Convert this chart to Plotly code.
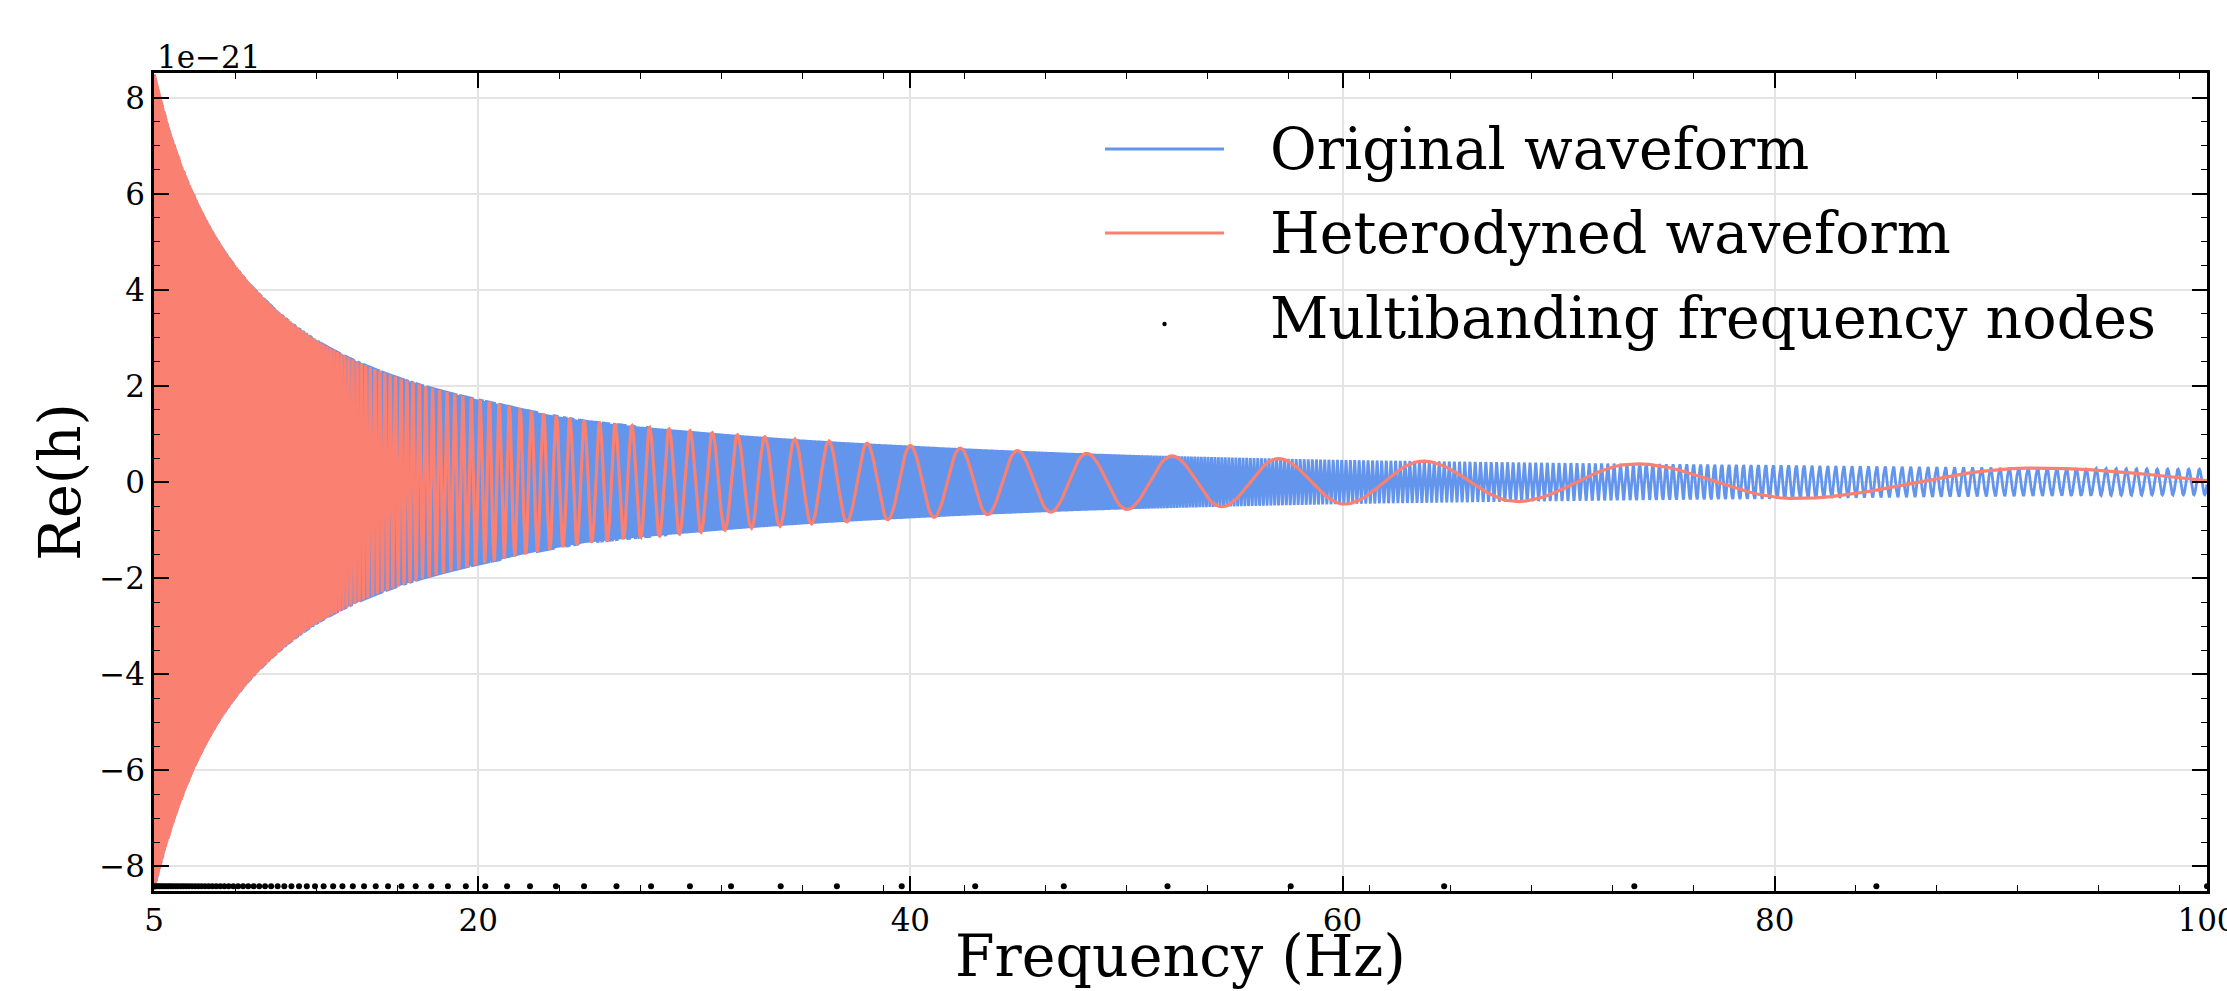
import numpy as np
import plotly.graph_objects as go

# ---------------- values ----------------
f_range = [5, 100]                 # Hz
y_range = [-8.52, 8.52]            # Re(h) in units of 1e-21

# amplitude envelope |h| (units of 1e-21) read at several frequencies
env_freq = [5.0, 7.19, 10.27, 12.73, 21.04, 25.0, 30.0, 40.0, 50.0, 60.0, 80.0, 98.0, 100.0]
env_amp = [8.52, 5.65, 3.75, 2.90, 1.62, 1.27, 1.06, 0.76, 0.57, 0.46, 0.35, 0.27, 0.265]

# local oscillation period (Hz) of the original waveform, read where it is resolved
orig_period_freq = [78.0, 99.0]
orig_period_hz = [0.335, 0.49]

# frequencies of the successive maxima / minima of the heterodyned waveform
het_extrema_hz = [24.91, 25.26, 25.62, 25.98, 26.34, 26.72, 27.11, 27.52, 27.93, 28.38,
                  28.83, 29.31, 29.80, 30.31, 30.83, 31.42, 31.99, 32.65, 33.26, 33.96,
                  34.65, 35.42, 36.23, 37.06, 38.00, 38.96, 40.00, 41.10, 42.31, 43.57,
                  44.95, 46.50, 48.16, 50.03, 52.11, 54.41, 57.03, 60.10, 63.75, 68.10,
                  73.60, 81.05, 92.20]
het_lowf_slope = 2.3               # log-log slope of its oscillation rate below 25 Hz
het_next_halfperiod_hz = 16.7      # half period after the last maximum

# multibanding frequency nodes
node_freq = [5.00, 5.09, 5.18, 5.27, 5.36, 5.46, 5.56, 5.67, 5.77, 5.88, 6.00, 6.11,
             6.24, 6.36, 6.49, 6.62, 6.76, 6.90, 7.05, 7.20, 7.36, 7.53, 7.70, 7.88,
             8.07, 8.26, 8.46, 8.67, 8.89, 9.12, 9.36, 9.61, 9.87, 10.14, 10.42, 10.72,
             11.03, 11.36, 11.71, 12.07, 12.45, 12.85, 13.29, 13.72, 14.20, 14.72, 15.26,
             15.83, 16.45, 17.11, 17.83, 18.60, 19.43, 20.33, 21.34, 22.40, 23.60, 24.90,
             26.40, 28.00, 29.80, 31.70, 34.00, 36.60, 39.60, 43.00, 47.10, 51.90, 57.60,
             64.70, 73.50, 84.70, 100.00]
node_level = -8.42

x_tick_vals = [5, 20, 40, 60, 80, 100]
y_tick_vals = [-8, -6, -4, -2, 0, 2, 4, 6, 8]
legend_labels = ["Original waveform", "Heterodyned waveform", "Multibanding frequency nodes"]
exponent_label = "1e\u221221"

BLUE = "#6495ED"
RED = "#FA8072"
FONT = "DejaVu Serif"

# ---------------- waveform construction ----------------
def envelope(f):
    return np.exp(np.interp(np.log(f), np.log(env_freq), np.log(env_amp)))

# original waveform phase: rate 2*pi*tau(f), tau = T0 + C f^(-8/3) through the read periods
_t = 1.0 / np.asarray(orig_period_hz)
_k = np.asarray(orig_period_freq) ** (-8.0 / 3.0)
C_ = (_t[0] - _t[1]) / (_k[0] - _k[1])
T0_ = _t[1] - C_ * _k[1]


def psi_orig(f):
    return 2 * np.pi * (T0_ * f - 0.6 * C_ * f ** (-5.0 / 3.0))


_ext = np.asarray(het_extrema_hz)
_n = len(_ext)
_ext_phase = np.pi * (_n - 1 - np.arange(_n))
_tau0 = 1.0 / (_ext[2] - _ext[0])
_f0 = _ext[1]


def _g(x):
    a = het_lowf_slope
    return _tau0 * _f0 / (a - 1) * (x / _f0) ** (1 - a)


def phi_het(f):
    f = np.asarray(f, dtype=float)
    out = np.interp(f, _ext, _ext_phase)
    lo = f < _ext[0]
    out[lo] = _ext_phase[0] + 2 * np.pi * (_g(f[lo]) - _g(_ext[0]))
    hi = f > _ext[-1]
    out[hi] = -(f[hi] - _ext[-1]) * np.pi / het_next_halfperiod_hz
    return out


def phase_samples(phase_fn, sign, step):
    fg = np.geomspace(f_range[0], f_range[1], 600000)
    pg = sign * phase_fn(fg)
    ps = np.arange(pg[0], pg[-1], step)
    fs = np.interp(ps, pg, fg)
    return np.r_[fs, f_range[1]]


def minmax_decimate(f, y, nbins):
    b = np.floor((f - f_range[0]) / (f_range[1] - f_range[0]) * nbins).astype(int)
    order = np.lexsort((y, b))
    bs = b[order]
    first = np.r_[True, bs[1:] != bs[:-1]]
    last = np.r_[bs[1:] != bs[:-1], True]
    keep = np.unique(np.r_[order[first], order[last]])
    return f[keep], y[keep]


NB = 2053 * 3
fb = phase_samples(psi_orig, 1.0, np.pi / 8)
yb = envelope(fb) * np.cos(psi_orig(fb))
fb, yb = minmax_decimate(fb, yb, NB)

fr = phase_samples(phi_het, -1.0, np.pi / 16)
yr = envelope(fr) * np.cos(phi_het(fr))
fr, yr = minmax_decimate(fr, yr, NB)

# ---------------- figure ----------------
fig = go.Figure()
fig.add_trace(go.Scatter(x=fb, y=yb, mode="lines", line=dict(color=BLUE, width=2.8),
                         name=legend_labels[0], hoverinfo="skip", showlegend=False))
fig.add_trace(go.Scatter(x=fr, y=yr, mode="lines", line=dict(color=RED, width=3.2),
                         name=legend_labels[1], hoverinfo="skip", showlegend=False))
fig.add_trace(go.Scatter(x=node_freq, y=[node_level] * len(node_freq), mode="markers",
                         marker=dict(color="black", size=6), name=legend_labels[2],
                         hoverinfo="skip", showlegend=False, cliponaxis=True))

W, H = 2227, 991
L, R, T, B = 154, 20, 73, 100
PW, PH = W - L - R, H - T - B


def px_x(x):
    return (x - L) / PW


def px_y(y):
    return (H - B - y) / PH


axis_common = dict(
    showline=True, linecolor="black", linewidth=2.5, mirror="allticks",
    ticks="inside", ticklen=15, tickwidth=1.6, tickcolor="black",
    showgrid=True, gridcolor="#e4e4e4", gridwidth=1.5, zeroline=False,
    tickfont=dict(family=FONT, size=31, color="black"),
    ticklabeloverflow="allow", automargin=False,
)

fig.update_xaxes(range=f_range, tickmode="array", tickvals=x_tick_vals,
                 minor=dict(tick0=5, dtick=3.75, ticks="inside", ticklen=6,
                            tickwidth=1.4, tickcolor="black", showgrid=False),
                 **axis_common)
fig.update_yaxes(range=y_range, tickmode="array", tickvals=y_tick_vals,
                 minor=dict(tick0=0, dtick=0.5, ticks="inside", ticklen=6,
                            tickwidth=1.4, tickcolor="black", showgrid=False),
                 **axis_common)

annotations = [
    dict(text="Frequency (Hz)", x=0.5, y=px_y(956), xref="paper", yref="paper",
         xanchor="center", yanchor="middle", showarrow=False,
         font=dict(family=FONT, size=57, color="black")),
    dict(text="Re(h)", x=px_x(60), y=0.5, xref="paper", yref="paper",
         xanchor="center", yanchor="middle", textangle=-90, showarrow=False,
         font=dict(family=FONT, size=57, color="black")),
    dict(text=exponent_label, x=px_x(155), y=1.0, xref="paper", yref="paper",
         xanchor="left", yanchor="bottom", showarrow=False, yshift=-4,
         font=dict(family=FONT, size=31, color="black")),
]
legend_rows_y = [149, 233, 318]
for lab, yy in zip(legend_labels, legend_rows_y):
    annotations.append(dict(text=lab, x=px_x(1268), y=px_y(yy), xref="paper", yref="paper",
                            xanchor="left", yanchor="middle", showarrow=False,
                            font=dict(family=FONT, size=57, color="black")))

shapes = [
    dict(type="line", xref="paper", yref="paper", x0=px_x(1105), x1=px_x(1224),
         y0=px_y(legend_rows_y[0]), y1=px_y(legend_rows_y[0]), line=dict(color=BLUE, width=3)),
    dict(type="line", xref="paper", yref="paper", x0=px_x(1105), x1=px_x(1224),
         y0=px_y(legend_rows_y[1]), y1=px_y(legend_rows_y[1]), line=dict(color=RED, width=3)),
    dict(type="circle", xref="paper", yref="paper", xsizemode="pixel", ysizemode="pixel",
         xanchor=px_x(1164.5), yanchor=px_y(324), x0=-2.2, x1=2.2, y0=-2.2, y1=2.2,
         fillcolor="black", line=dict(color="black", width=0)),
]

fig.update_layout(
    width=W, height=H, autosize=False,
    margin=dict(l=L, r=R, t=T, b=B, autoexpand=False),
    paper_bgcolor="white", plot_bgcolor="white",
    font=dict(family=FONT, color="black"),
    annotations=annotations, shapes=shapes, showlegend=False,
)

fig.write_html("out.html", config={"displayModeBar": False},
               post_script="document.body.style.margin='0';document.body.style.overflow='hidden';")
